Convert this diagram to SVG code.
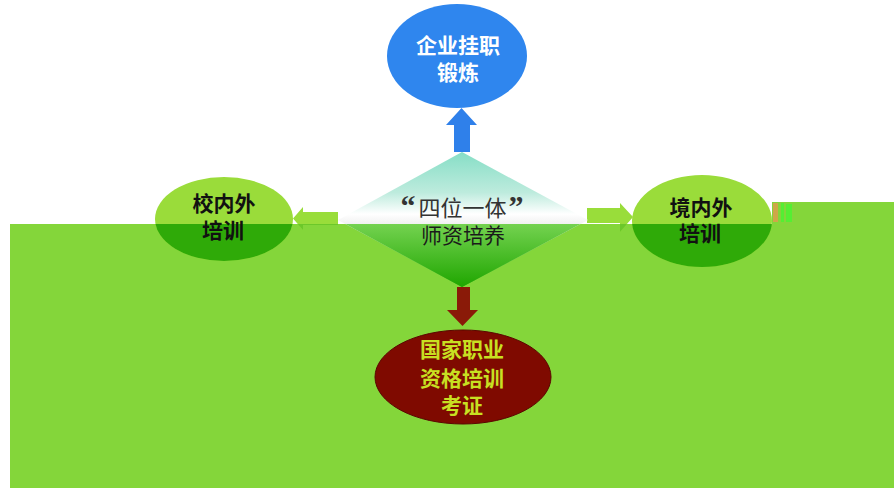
<svg xmlns="http://www.w3.org/2000/svg" width="894" height="488" viewBox="0 0 894 488">
<defs>
<style>
.cjk{font-family:"Liberation Sans","Noto Sans CJK SC",sans-serif;text-anchor:middle}
.q{font-family:"Liberation Serif","Noto Sans CJK SC",serif;font-size:30px;font-weight:bold}
.b{font-weight:bold}
.dk{fill:#111}
</style>
<clipPath id="low"><polygon points="10,224 772,224 772,202 894,202 894,488 10,488"/></clipPath>
<linearGradient id="dTop" gradientUnits="userSpaceOnUse" x1="0" y1="152" x2="0" y2="287">
<stop offset="0" stop-color="#86DEC6"/>
<stop offset="0.3" stop-color="#BDEBDD"/>
<stop offset="0.46" stop-color="#FFFFFF"/>
<stop offset="0.55" stop-color="#EEEEEE"/>
<stop offset="1" stop-color="#33BB11"/>
</linearGradient>
<linearGradient id="dLow" gradientUnits="userSpaceOnUse" x1="0" y1="224" x2="0" y2="287">
<stop offset="0" stop-color="#74D250"/>
<stop offset="1" stop-color="#1FA600"/>
</linearGradient>
</defs>
<rect width="894" height="488" fill="#FFFFFF"/>
<polygon points="10,224 772,224 772,202 894,202 894,488 10,488" fill="#84D63A"/>
<g fill="#CFA748"><rect x="773" y="203" width="5" height="19"/></g>
<g fill="#55EE33"><rect x="781" y="203" width="3" height="19"/><rect x="786" y="204" width="6" height="18"/></g>
<g id="connectors">
<polygon points="454,152 454,125 446,125 461.5,108 477,125 470,125 470,152" fill="#2F80EA"/>
<polygon points="338,212 303,212 303,207 293,218.5 303,230 303,225 338,225" fill="#99DD3A"/>
<g clip-path="url(#low)"><polygon points="338,212 303,212 303,207 293,218.5 303,230 303,225 338,225" fill="#6CC82A"/></g>
<polygon points="587,208 620,208 620,203 633,217 620,232 620,223 587,223" fill="#99DD3A"/>
<g clip-path="url(#low)"><polygon points="587,208 620,208 620,203 633,217 620,232 620,223 587,223" fill="#6CC82A"/></g>
<polygon points="457,287 470,287 470,310 478,310 462.5,326 447,310 457,310" fill="#8A1A08"/>
</g>
<g id="center">
<polygon points="462,152 588,220 462,287 338,220" fill="url(#dTop)"/>
<g clip-path="url(#low)"><polygon points="462,152 588,220 462,287 338,220" fill="url(#dLow)"/></g>
<text class="cjk" x="462" y="216" font-size="22" fill="#333"><tspan class="q">“</tspan><tspan dx="3">四位一体</tspan><tspan class="q" dx="2">”</tspan></text>
<text class="cjk" x="463" y="243" font-size="21" fill="#1a1a1a">师资培养</text>
</g>
<g id="top">
<ellipse cx="457" cy="56" rx="70" ry="52" fill="#2F86EE"/>
<text class="cjk b" x="458" y="53" font-size="21" fill="#FFFFFF">企业挂职</text>
<text class="cjk b" x="458" y="80" font-size="21" fill="#FFFFFF">锻炼</text>
</g>
<g id="left">
<ellipse cx="224" cy="219" rx="69" ry="42" fill="#9ADC3A"/>
<g clip-path="url(#low)"><ellipse cx="224" cy="219" rx="69" ry="42" fill="#2FAA08"/></g>
<text class="cjk b dk" x="224" y="211" font-size="21">校内外</text>
<text class="cjk b dk" x="223" y="238" font-size="21">培训</text>
</g>
<g id="right">
<ellipse cx="702" cy="221" rx="70" ry="46" fill="#9ADC3A"/>
<g clip-path="url(#low)"><ellipse cx="702" cy="221" rx="70" ry="46" fill="#2FAA08"/></g>
<text class="cjk b dk" x="701" y="215" font-size="21">境内外</text>
<text class="cjk b dk" x="700" y="241" font-size="21">培训</text>
</g>
<g id="bottom">
<ellipse cx="463" cy="377" rx="88" ry="47" fill="#7F0A00" stroke="#5a0600" stroke-width="1"/>
<text class="cjk b" x="462" y="357" font-size="21" fill="#C8E022">国家职业</text>
<text class="cjk b" x="462" y="386" font-size="21" fill="#C8E022">资格培训</text>
<text class="cjk b" x="462" y="413" font-size="21" fill="#C8E022">考证</text>
</g>
</svg>
